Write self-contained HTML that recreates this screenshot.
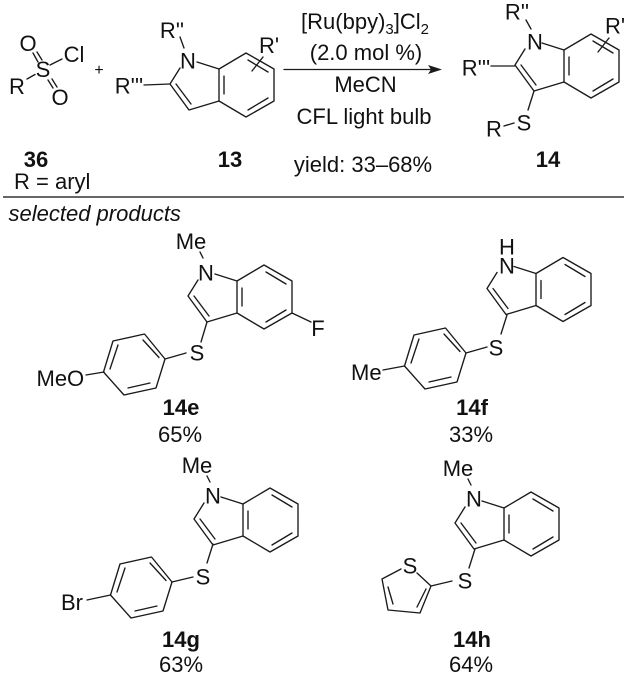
<!DOCTYPE html>
<html>
<head>
<meta charset="utf-8">
<style>
html,body{margin:0;padding:0;background:#fff;width:627px;height:676px;overflow:hidden}
svg{display:block}
text{font-family:"Liberation Sans",sans-serif;font-size:22px;fill:#111}
.m{text-anchor:middle}
.b{font-weight:bold}
line,polyline,polygon.s{stroke:#1a1a1a;stroke-width:1.35;fill:none;stroke-linecap:round;stroke-linejoin:round}
</style>
</head>
<body>
<svg width="627" height="676" viewBox="0 0 627 676" xmlns="http://www.w3.org/2000/svg">
<defs>
<g id="ind">
<polyline points="-39,-33 -49,-17 -30,9 0,0 0,-32 -22,-39"/>
<polyline points="0,-32 27,-48 55,-32 55,0 27,16 0,0"/>
<line x1="5" y1="-7" x2="5" y2="-25"/>
<line x1="29" y1="-41" x2="49" y2="-29"/>
<line x1="49" y1="-3" x2="29" y2="9"/>
<line x1="-43" y1="-17" x2="-28" y2="3"/>
</g>
<g id="ary">
<polygon class="s" points="0,0 -20.5,-25 -52,-18 -61.5,13 -41,36 -9,29"/>
<line x1="-6" y1="-1.5" x2="-22" y2="-19"/>
<line x1="-47" y1="-14" x2="-55" y2="10"/>
<line x1="-37" y1="29" x2="-15" y2="24"/>
</g>
</defs>

<!-- sulfonyl chloride -->
<text class="m" x="28" y="51">O</text>
<text class="m" x="43" y="77">S</text>
<text class="m" x="74" y="62">Cl</text>
<text class="m" x="17" y="94">R</text>
<text class="m" x="60" y="105">O</text>
<line x1="27" y1="79" x2="35" y2="74.5"/>
<line x1="50" y1="65" x2="62" y2="59"/>
<line x1="33" y1="53" x2="38" y2="62"/>
<line x1="37" y1="52" x2="42" y2="60"/>
<line x1="48" y1="80" x2="53" y2="88"/>
<line x1="52" y1="79" x2="57" y2="87"/>
<text class="m" x="99" y="75" style="font-size:16px">+</text>

<!-- 13 -->
<use href="#ind" transform="translate(219,101)"/>
<text class="m" x="188" y="68.5">N</text>
<text class="m" x="172" y="38">R''</text>
<text class="m" x="129" y="93.5">R'''</text>
<text class="m" x="269" y="53">R'</text>
<line x1="180" y1="37" x2="184" y2="48"/>
<line x1="144" y1="85" x2="170" y2="84"/>
<line x1="252" y1="71" x2="263" y2="57"/>

<!-- arrow and conditions -->
<line x1="284" y1="69.5" x2="432" y2="69.5"/>
<polygon points="442,69.5 428,65 431,69.5 428,74" fill="#1a1a1a"/>
<text x="365" y="29" class="m">[Ru(bpy)<tspan dy="5" style="font-size:15px">3</tspan><tspan dy="-5">]Cl</tspan><tspan dy="5" style="font-size:15px">2</tspan></text>
<text x="366" y="60" class="m">(2.0 mol %)</text>
<text x="365.5" y="92" class="m">MeCN</text>
<text x="364" y="124" class="m">CFL light bulb</text>
<text x="363" y="172" class="m">yield: 33–68%</text>

<!-- 14 -->
<use href="#ind" transform="translate(564,82)"/>
<text class="m" x="535" y="49.5">N</text>
<text class="m" x="517" y="19.5">R''</text>
<text class="m" x="476" y="75.5">R'''</text>
<text class="m" x="615" y="33.5">R'</text>
<text class="m" x="524" y="130.5">S</text>
<text class="m" x="494" y="136.5">R</text>
<line x1="526" y1="20" x2="531" y2="29"/>
<line x1="491" y1="66" x2="515" y2="66"/>
<line x1="598" y1="52" x2="609" y2="38"/>
<line x1="534" y1="91" x2="528" y2="110"/>
<line x1="504" y1="126" x2="514" y2="123"/>

<!-- labels -->
<text class="m b" x="36" y="167">36</text>
<text class="m b" x="230" y="167">13</text>
<text class="m b" x="548" y="167">14</text>
<text x="14" y="189">R = aryl</text>

<line x1="3" y1="197" x2="624" y2="197" style="stroke:#333;stroke-width:1.5;stroke-linecap:butt"/>
<text x="8.5" y="221" style="font-style:italic">selected products</text>

<!-- 14e -->
<use href="#ind" transform="translate(237,313)"/>
<use href="#ary" transform="translate(165,359)"/>
<text class="m" x="191" y="249">Me</text>
<text class="m" x="206" y="280.5">N</text>
<text class="m" x="197" y="360.5">S</text>
<text class="m" x="318" y="336">F</text>
<text x="36.5" y="386">MeO</text>
<line x1="86" y1="375" x2="104" y2="372"/>
<line x1="200" y1="252" x2="203" y2="258"/>
<line x1="292" y1="313" x2="311" y2="322"/>
<line x1="207" y1="322" x2="201" y2="342"/>
<line x1="186" y1="353" x2="165" y2="359"/>
<text class="m b" x="181" y="415">14e</text>
<text class="m" x="180" y="442">65%</text>

<!-- 14f -->
<use href="#ind" transform="translate(536,305.5)"/>
<use href="#ary" transform="translate(466,353)"/>
<text class="m" x="507" y="254.5">H</text>
<text class="m" x="507" y="273.5">N</text>
<text class="m" x="496" y="355.5">S</text>
<text x="351" y="380">Me</text>
<line x1="507" y1="315" x2="501" y2="334"/>
<line x1="487" y1="347" x2="466" y2="353"/>
<line x1="383" y1="370" x2="404.5" y2="366"/>
<text class="m b" x="472" y="415">14f</text>
<text class="m" x="471" y="442">33%</text>

<!-- 14g -->
<use href="#ind" transform="translate(243,536)"/>
<use href="#ary" transform="translate(172,582)"/>
<text class="m" x="197" y="473">Me</text>
<text class="m" x="213" y="503.5">N</text>
<text class="m" x="203" y="584.5">S</text>
<text x="61" y="610">Br</text>
<line x1="207" y1="476" x2="210" y2="482"/>
<line x1="213" y1="544" x2="207" y2="563"/>
<line x1="193" y1="577" x2="172" y2="582"/>
<line x1="87" y1="600" x2="110.5" y2="595"/>
<text class="m b" x="181" y="647">14g</text>
<text class="m" x="181" y="672">63%</text>

<!-- 14h -->
<use href="#ind" transform="translate(504,540)"/>
<text class="m" x="458" y="476">Me</text>
<text class="m" x="474" y="506.5">N</text>
<text class="m" x="465" y="588.5">S</text>
<text class="m" x="410" y="573.5">S</text>
<line x1="468" y1="479" x2="471" y2="485"/>
<line x1="475" y1="549" x2="469" y2="568"/>
<line x1="452" y1="581" x2="431" y2="586"/>
<polyline points="417,573 431,586 420,613 388,610 382,579 401,569"/>
<line x1="388" y1="587" x2="393" y2="604"/>
<line x1="426" y1="589" x2="417" y2="607"/>
<text class="m b" x="472" y="647">14h</text>
<text class="m" x="471" y="672">64%</text>
</svg>
</body>
</html>
